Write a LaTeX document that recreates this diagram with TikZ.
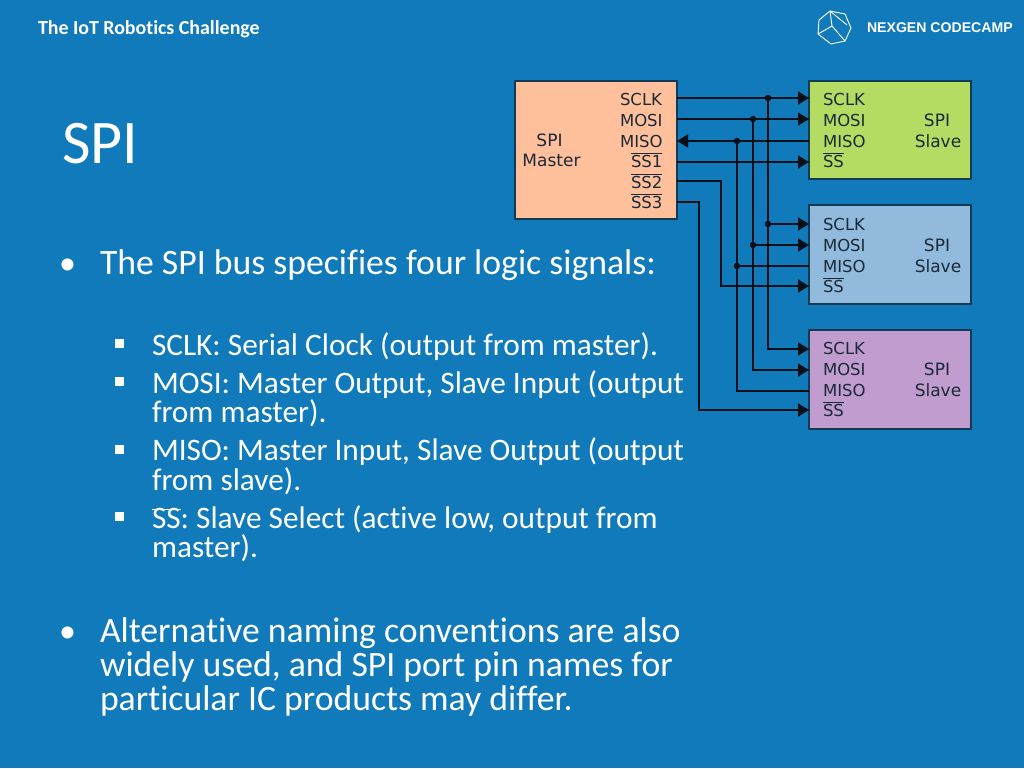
\documentclass[tikz,border=0pt]{standalone}
\usepackage{fontspec}
\setmainfont[Ligatures=NoCommon]{Carlito}
\newfontfamily\diafont{DejaVu Sans}
\newfontfamily\hdfont{Liberation Sans}
\usetikzlibrary{arrows.meta}
\definecolor{bg}{HTML}{117ABA}
\definecolor{wire}{HTML}{040F18}
\definecolor{edgec}{HTML}{123A52}
\definecolor{lab}{HTML}{1A2A38}
\newcommand{\ovl}[2][0.78em]{\leavevmode\rlap{\raisebox{#1}{\rule{\widthof{#2}}{0.9pt}}}#2}
\usepackage{calc}
\tikzset{
  x=1pt,y=-1pt,
  every node/.style={inner sep=0pt,outer sep=0pt},
  box/.style={draw=edgec,line width=1.3pt,anchor=north west},
  dia/.style={anchor=base west,font=\diafont\fontsize{16.5}{16.5}\selectfont,text=lab},
  diac/.style={anchor=base,font=\diafont\fontsize{17}{17}\selectfont,text=lab},
  wirel/.style={draw=wire,line width=1.4pt},
  arr/.style={wirel,-{Triangle[length=11pt,width=13pt]}},
  junc/.style={circle,fill=wire,minimum size=6.5pt},
  lone/.style={anchor=base west,text=white,font=\fontsize{35.7}{35.7}\selectfont},
  ltwo/.style={anchor=base west,text=white,font=\fontsize{31.3}{31.3}\selectfont},
  bul/.style={anchor=base west,text=white,font=\fontsize{34}{34}\selectfont},
  sq/.style={fill=white,minimum size=9pt,anchor=center},
  logo/.style={draw=white,line width=0.9pt,line join=round},
}
\begin{document}
\begin{tikzpicture}
\fill[bg] (0,0) rectangle (1024,768);
\useasboundingbox (0,0) rectangle (1024,768);
% header
\node[anchor=base west,text=white,font=\bfseries\fontsize{19.9}{19.9}\selectfont] (hdr) at (38,35) {The IoT Robotics Challenge};
\node[anchor=base west,text=white,font=\hdfont\bfseries\fontsize{14.1}{14.1}\selectfont] (brand) at (867,33) {NEXGEN CODECAMP};
\draw[logo] (830,11) -- (845,14) -- (851,28) -- (845,41) -- (831,44) -- (818,34) -- (819,20) -- cycle;
\draw[logo] (830,11) -- (832,26) -- (845,41);
\draw[logo] (832,26) -- (818,34);
\draw[logo] (830,11) -- (847,25);
% title and text
\node[anchor=base west,text=white,font=\fontsize{62}{62}\selectfont] (title) at (62,163) {SPI};
\node[bul] (b1) at (59,274) {•};
\node[lone] (t1) at (100,274) {The SPI bus specifies four logic signals:};
\node[sq] (s1) at (119.5,343.5) {};
\node[ltwo] (t2) at (152,355.5) {SCLK: Serial Clock (output from master).};
\node[sq] (s2) at (119.5,381.5) {};
\node[ltwo] (t3) at (152,393.5) {MOSI: Master Output, Slave Input (output};
\node[ltwo] (t3b) at (152,422.5) {from master).};
\node[sq] (s3) at (119.5,449) {};
\node[ltwo] (t4) at (152,460.5) {MISO: Master Input, Slave Output (output};
\node[ltwo] (t4b) at (152,490.5) {from slave).};
\node[sq] (s4) at (119.5,516) {};
\node[ltwo] (t5) at (152,528.5) {\ovl[0.6em]{SS}: Slave Select (active low, output from};
\node[ltwo] (t5b) at (152,557.5) {master).};
\node[bul] (b2) at (59,642) {•};
\node[lone] (t6) at (100,642) {Alternative naming conventions are also};
\node[lone] (t6b) at (100,676) {widely used, and SPI port pin names for};
\node[lone] (t6c) at (100,710) {particular IC products may differ.};
% boxes
\node[box,fill={rgb,255:red,255;green,192;blue,155},minimum width=162pt,minimum height=138pt] (master) at (515,81) {};
\node[box,fill={rgb,255:red,181;green,220;blue,98},minimum width=162pt,minimum height=98pt] (slaveA) at (809,81) {};
\node[box,fill={rgb,255:red,145;green,186;blue,220},minimum width=162pt,minimum height=99pt] (slaveB) at (809,205) {};
\node[box,fill={rgb,255:red,192;green,156;blue,207},minimum width=162pt,minimum height=99pt] (slaveC) at (809,330) {};
% master labels
\node[diac] (mA) at (549.5,146) {SPI};
\node[diac] (mB) at (551.5,166) {Master};
\node[dia] (m1) at (620,105) {SCLK};
\node[dia] (m2) at (620,126) {MOSI};
\node[dia] (m3) at (620,147) {MISO};
\node[dia] (m4) at (631,167) {\ovl{SS1}};
\node[dia] (m5) at (631,188) {\ovl{SS2}};
\node[dia] (m6) at (631,208) {\ovl{SS3}};
% slave labels
\foreach \n/\yo in {A/0,B/125,C/249}{
  \node[dia] (sa\n) at (823,105+\yo) {SCLK};
  \node[dia] (sb\n) at (823,126+\yo) {MOSI};
  \node[dia] (sc\n) at (823,147+\yo) {MISO};
  \node[dia] (sd\n) at (823,167+\yo) {\ovl{SS}};
  \node[diac] (se\n) at (937,126+\yo) {SPI};
  \node[diac] (sf\n) at (938,147+\yo) {Slave};
}
% pin coordinates
\coordinate (pm1) at (677,98);
\coordinate (pm2) at (677,119);
\coordinate (pm3) at (677,141);
\coordinate (pm4) at (677,162);
\coordinate (pm5) at (677,181);
\coordinate (pm6) at (677,202);
\coordinate (pa1) at (809,98);
\coordinate (pa2) at (809,119);
\coordinate (pa3) at (809,141);
\coordinate (pa4) at (809,162);
\coordinate (pb1) at (809,224);
\coordinate (pb2) at (809,245);
\coordinate (pb3) at (809,266);
\coordinate (pb4) at (809,286);
\coordinate (pc1) at (809,349);
\coordinate (pc2) at (809,370);
\coordinate (pc3) at (809,391);
\coordinate (pc4) at (809,410);
% junctions
\node[junc] (j1) at (768,98) {};
\node[junc] (j2) at (753,119) {};
\node[junc] (j3) at (737,141) {};
\node[junc] (j4) at (768,224) {};
\node[junc] (j5) at (753,245) {};
\node[junc] (j6) at (737,266) {};
% wires
\draw[arr] (pm1) -- (pa1);
\draw[arr] (pm2) -- (pa2);
\draw[arr] (pa3) -- (pm3);
\draw[arr] (pm4) -- (pa4);
\draw[arr] (pm5) -| (721,286) -- (pb4);
\draw[arr] (pm6) -| (699,410) -- (pc4);
\draw[arr] (j1.center) |- (pc1);
\draw[arr] (j2.center) |- (pc2);
\draw[wirel] (j3.center) |- (pc3);
\draw[arr] (j4.center) -- (pb1);
\draw[arr] (j5.center) -- (pb2);
\draw[wirel] (j6.center) -- (pb3);
\end{tikzpicture}
\end{document}
